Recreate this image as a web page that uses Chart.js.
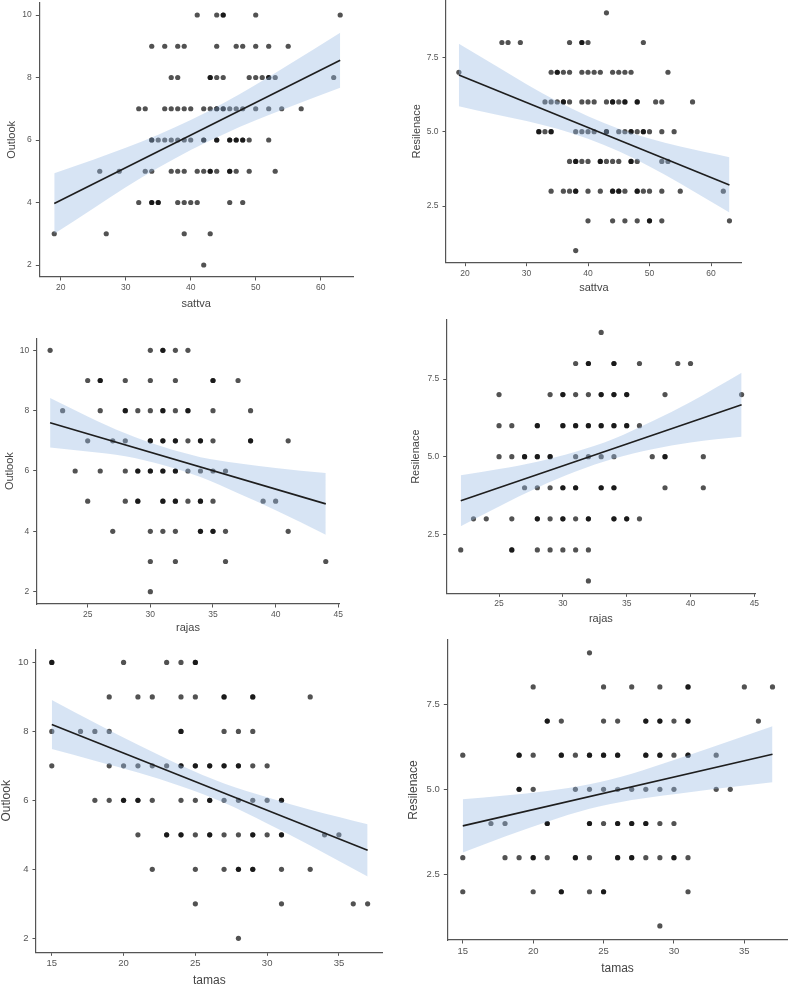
<!DOCTYPE html>
<html lang="en">
<head>
<meta charset="UTF-8">
<title>Gunas vs Outlook / Resilenace</title>
<script src="https://cdn.jsdelivr.net/npm/chart.js"></script>
<style>
  html, body { margin: 0; padding: 0; background: #fff; overflow: hidden; }
  body { width: 790px; height: 986px; position: relative; }
  canvas.panel { position: absolute; left: -10px; top: -10px; width: 810px; height: 1010px; }
</style>
</head>
<body>
<canvas class="panel" id="c1" width="810" height="1010"></canvas>
<canvas class="panel" id="c2" width="810" height="1010"></canvas>
<canvas class="panel" id="c3" width="810" height="1010"></canvas>
<canvas class="panel" id="c4" width="810" height="1010"></canvas>
<canvas class="panel" id="c5" width="810" height="1010"></canvas>
<canvas class="panel" id="c6" width="810" height="1010"></canvas>
<script>
// ---- data: [x, y] pairs (repeated pairs = overlapping cases) ----
const sattvaOutlook = [
  [41,10],[44,10],[45,10],[45,10],[50,10],[63,10],
  [34,9],[36,9],[38,9],[39,9],[44,9],[47,9],[48,9],[50,9],[52,9],[55,9],
  [37,8],[38,8],[43,8],[43,8],[44,8],[45,8],[49,8],[50,8],[51,8],[52,8],[52,8],[53,8],[62,8],
  [32,7],[33,7],[36,7],[37,7],[38,7],[39,7],[40,7],[42,7],[43,7],[44,7],[44,7],[45,7],[45,7],[46,7],[47,7],[48,7],[50,7],[52,7],[54,7],[57,7],
  [34,6],[34,6],[35,6],[36,6],[37,6],[38,6],[39,6],[40,6],[42,6],[42,6],[44,6],[44,6],[46,6],[46,6],[47,6],[47,6],[48,6],[48,6],[49,6],[52,6],
  [26,5],[29,5],[33,5],[34,5],[37,5],[38,5],[39,5],[41,5],[42,5],[43,5],[43,5],[44,5],[46,5],[46,5],[47,5],[49,5],[53,5],
  [32,4],[34,4],[34,4],[35,4],[35,4],[38,4],[39,4],[40,4],[41,4],[46,4],[48,4],
  [19,3],[27,3],[39,3],[43,3],
  [42,2]
];
const sattvaResil = [
  [43,9],
  [26,8],[27,8],[29,8],[37,8],[39,8],[39,8],[40,8],[49,8],
  [19,7],[34,7],[35,7],[35,7],[36,7],[37,7],[39,7],[40,7],[41,7],[42,7],[44,7],[45,7],[46,7],[47,7],[53,7],
  [33,6],[34,6],[35,6],[36,6],[36,6],[37,6],[39,6],[40,6],[41,6],[43,6],[44,6],[44,6],[45,6],[46,6],[46,6],[48,6],[48,6],[51,6],[52,6],[57,6],
  [32,5],[32,5],[33,5],[34,5],[34,5],[38,5],[39,5],[40,5],[41,5],[43,5],[43,5],[45,5],[46,5],[47,5],[47,5],[48,5],[49,5],[49,5],[50,5],[52,5],[54,5],
  [37,4],[38,4],[38,4],[39,4],[40,4],[42,4],[42,4],[43,4],[44,4],[45,4],[47,4],[47,4],[48,4],[52,4],[53,4],
  [34,3],[36,3],[37,3],[38,3],[38,3],[40,3],[42,3],[44,3],[44,3],[45,3],[45,3],[46,3],[48,3],[48,3],[49,3],[50,3],[52,3],[55,3],[62,3],
  [40,2],[44,2],[46,2],[48,2],[50,2],[50,2],[52,2],[63,2],
  [38,1]
];
const rajasOutlook = [
  [22,10],[30,10],[31,10],[31,10],[32,10],[33,10],
  [25,9],[26,9],[26,9],[28,9],[30,9],[32,9],[35,9],[35,9],[37,9],
  [23,8],[26,8],[28,8],[28,8],[29,8],[30,8],[31,8],[31,8],[32,8],[33,8],[33,8],[35,8],[38,8],
  [25,7],[27,7],[28,7],[30,7],[30,7],[31,7],[31,7],[32,7],[32,7],[33,7],[34,7],[34,7],[35,7],[38,7],[38,7],[41,7],
  [24,6],[26,6],[28,6],[29,6],[29,6],[30,6],[30,6],[31,6],[31,6],[32,6],[32,6],[33,6],[34,6],[35,6],[36,6],
  [25,5],[28,5],[29,5],[29,5],[31,5],[31,5],[32,5],[32,5],[33,5],[34,5],[34,5],[35,5],[39,5],[40,5],
  [27,4],[30,4],[31,4],[32,4],[34,4],[34,4],[35,4],[35,4],[36,4],[41,4],
  [30,3],[32,3],[36,3],[44,3],
  [30,2]
];
const rajasResil = [
  [33,9],
  [31,8],[32,8],[32,8],[34,8],[34,8],[36,8],[39,8],[40,8],
  [25,7],[29,7],[30,7],[30,7],[31,7],[32,7],[33,7],[33,7],[34,7],[34,7],[35,7],[35,7],[38,7],[44,7],
  [25,6],[26,6],[28,6],[28,6],[30,6],[30,6],[31,6],[31,6],[32,6],[32,6],[33,6],[33,6],[34,6],[34,6],[35,6],[35,6],[36,6],
  [25,5],[26,5],[27,5],[27,5],[28,5],[28,5],[29,5],[29,5],[31,5],[32,5],[33,5],[34,5],[37,5],[38,5],[38,5],[41,5],
  [27,4],[28,4],[29,4],[30,4],[30,4],[31,4],[31,4],[33,4],[33,4],[34,4],[34,4],[38,4],[41,4],
  [23,3],[24,3],[26,3],[28,3],[28,3],[29,3],[30,3],[30,3],[31,3],[32,3],[32,3],[34,3],[34,3],[35,3],[35,3],[36,3],
  [22,2],[26,2],[26,2],[28,2],[29,2],[30,2],[31,2],[32,2],
  [32,1]
];
const tamasOutlook = [
  [15,10],[15,10],[20,10],[23,10],[24,10],[25,10],[25,10],
  [19,9],[21,9],[22,9],[24,9],[25,9],[27,9],[27,9],[29,9],[29,9],[33,9],
  [15,8],[17,8],[18,8],[19,8],[24,8],[24,8],[27,8],[28,8],[29,8],
  [15,7],[19,7],[20,7],[21,7],[22,7],[23,7],[24,7],[24,7],[25,7],[25,7],[26,7],[26,7],[27,7],[27,7],[28,7],[28,7],[29,7],[30,7],
  [18,6],[19,6],[20,6],[20,6],[21,6],[21,6],[22,6],[24,6],[25,6],[26,6],[26,6],[27,6],[28,6],[29,6],[30,6],[31,6],[31,6],
  [21,5],[23,5],[23,5],[24,5],[24,5],[25,5],[26,5],[26,5],[27,5],[28,5],[29,5],[29,5],[30,5],[31,5],[31,5],[34,5],[35,5],
  [22,4],[25,4],[27,4],[28,4],[28,4],[29,4],[29,4],[31,4],[33,4],
  [25,3],[31,3],[36,3],[37,3],
  [28,2]
];
const tamasResil = [
  [24,9],
  [20,8],[25,8],[27,8],[29,8],[31,8],[31,8],[35,8],[37,8],
  [21,7],[21,7],[22,7],[25,7],[26,7],[28,7],[28,7],[29,7],[29,7],[30,7],[31,7],[31,7],[36,7],
  [15,6],[19,6],[19,6],[20,6],[22,6],[22,6],[23,6],[24,6],[24,6],[25,6],[25,6],[26,6],[26,6],[28,6],[28,6],[29,6],[29,6],[30,6],[31,6],[31,6],[33,6],
  [19,5],[19,5],[20,5],[23,5],[24,5],[25,5],[26,5],[27,5],[28,5],[29,5],[30,5],[33,5],[34,5],
  [17,4],[18,4],[21,4],[21,4],[24,4],[24,4],[25,4],[26,4],[26,4],[27,4],[27,4],[28,4],[28,4],[29,4],[30,4],
  [15,3],[18,3],[19,3],[20,3],[20,3],[21,3],[23,3],[23,3],[24,3],[26,3],[26,3],[27,3],[27,3],[28,3],[29,3],[30,3],[30,3],[31,3],
  [15,2],[20,2],[22,2],[22,2],[24,2],[25,2],[25,2],[31,2],
  [29,1]
];

// fitted lines (end points) and confidence band edges
const fitSattvaOutlook = [[19,3.97],[63,8.55]];
const fitSattvaResil   = [[19,6.91],[63,3.21]];
const fitRajasOutlook  = [[22,7.60],[44,4.91]];
const fitRajasResil    = [[22,3.58],[44,6.67]];
const fitTamasOutlook  = [[15,8.20],[37,4.55]];
const fitTamasResil    = [[15,3.93],[37,6.03]];

const bandXSattva = [19, 25, 30, 35, 40, 45, 50, 55, 63];
const bandHiSO = [4.94, 5.37, 5.75, 6.17, 6.64, 7.18, 7.77, 8.40, 9.43];
const bandLoSO = [3.00, 3.81, 4.49, 5.11, 5.68, 6.18, 6.63, 7.04, 7.67];
const bandHiSR = [7.96, 7.22, 6.60, 6.02, 5.52, 5.10, 4.77, 4.50, 4.14];
const bandLoSR = [5.86, 5.58, 5.36, 5.10, 4.76, 4.34, 3.83, 3.26, 2.28];

const bandXRajas = [22, 25, 28, 31, 34, 37, 40, 44];
const bandHiRO = [8.42, 7.81, 7.25, 6.80, 6.46, 6.26, 6.10, 5.93];
const bandLoRO = [6.78, 6.65, 6.49, 6.20, 5.80, 5.26, 4.70, 3.89];
const bandHiRR = [4.40, 4.60, 4.84, 5.16, 5.58, 6.14, 6.76, 7.70];
const bandLoRR = [2.76, 3.40, 4.00, 4.52, 4.94, 5.24, 5.46, 5.64];

const bandXTamas = [15, 18, 21, 24, 27, 30, 33, 37];
const bandHiTO = [8.91, 8.25, 7.61, 7.01, 6.49, 6.09, 5.73, 5.31];
const bandLoTO = [7.49, 7.15, 6.81, 6.41, 5.93, 5.33, 4.69, 3.79];
const bandHiTR = [4.71, 4.82, 4.95, 5.15, 5.46, 5.86, 6.28, 6.85];
const bandLoTR = [3.15, 3.62, 4.05, 4.43, 4.69, 4.86, 5.02, 5.21];

// tick values and labels
const sattvaTicks = [20, 30, 40, 50, 60];
const rajasTicks = [25, 30, 35, 40, 45];
const tamasTicks = [15, 20, 25, 30, 35];
const outlookTicks = [2, 4, 6, 8, 10];
const outlookLabels = ['2', '4', '6', '8', '10'];
const resilTicks = [2.5, 5.0, 7.5];
const resilLabels = ['2.5', '5.0', '7.5'];
const xTickLabels = v => String(v);

// ---- layout (page pixels): plot box [left, top, right, bottom] ----
const panels = [
  { id: 'c1', pts: sattvaOutlook, fit: fitSattvaOutlook, bx: bandXSattva, hi: bandHiSO, lo: bandLoSO,
    xTicks: sattvaTicks, yTicks: outlookTicks, yLabels: outlookLabels, xTitle: 'sattva', yTitle: 'Outlook',
    plot: [39.3, 2.7, 353, 277], xr: [16.7, 64.97], yr: [1.616, 10.394], xTitleY: 303.5, yTitleX: 12, tSize: 11, kSize: 8.5 },
  { id: 'c2', pts: sattvaResil, fit: fitSattvaResil, bx: bandXSattva, hi: bandHiSR, lo: bandLoSR,
    xTicks: sattvaTicks, yTicks: resilTicks, yLabels: resilLabels, xTitle: 'sattva', yTitle: 'Resilenace',
    plot: [446, 0, 741.7, 262.7], xr: [16.91, 64.99], yr: [0.593, 9.43], xTitleY: 287.5, yTitleX: 417, tSize: 11, kSize: 8.5 },
  { id: 'c3', pts: rajasOutlook, fit: fitRajasOutlook, bx: bandXRajas, hi: bandHiRO, lo: bandLoRO,
    xTicks: rajasTicks, yTicks: outlookTicks, yLabels: outlookLabels, xTitle: 'rajas', yTitle: 'Outlook',
    plot: [36.7, 338.3, 339.3, 604], xr: [20.93, 45.08], yr: [1.59, 10.4], xTitleY: 627.5, yTitleX: 10, tSize: 11, kSize: 8.5 },
  { id: 'c4', pts: rajasResil, fit: fitRajasResil, bx: bandXRajas, hi: bandHiRR, lo: bandLoRR,
    xTicks: rajasTicks, yTicks: resilTicks, yLabels: resilLabels, xTitle: 'rajas', yTitle: 'Resilenace',
    plot: [446.7, 320, 755, 593.3], xr: [20.9, 45.05], yr: [0.603, 9.4], xTitleY: 619, yTitleX: 416.3, tSize: 11, kSize: 8.5 },
  { id: 'c5', pts: tamasOutlook, fit: fitTamasOutlook, bx: bandXTamas, hi: bandHiTO, lo: bandLoTO,
    xTicks: tamasTicks, yTicks: outlookTicks, yLabels: outlookLabels, xTitle: 'tamas', yTitle: 'Outlook',
    plot: [36, 649.3, 382.7, 952.3], xr: [13.9, 38.05], yr: [1.594, 10.38], xTitleY: 981, yTitleX: 6.2, tSize: 12, kSize: 9.5 },
  { id: 'c6', pts: tamasResil, fit: fitTamasResil, bx: bandXTamas, hi: bandHiTR, lo: bandLoTR,
    xTicks: tamasTicks, yTicks: resilTicks, yLabels: resilLabels, xTitle: 'tamas', yTitle: 'Resilenace',
    plot: [447.3, 640, 787.7, 940], xr: [13.9, 38.08], yr: [0.587, 9.375], xTitleY: 968.7, yTitleX: 413.7, tSize: 12, kSize: 9.5 }
];

const OFF = 10;            // canvas is shifted by -10px
const CW = 810, CH = 1010;
const FONT = "'Liberation Sans', Arial, Helvetica, sans-serif";
const pointColor = 'rgba(0,0,0,0.68)';
const bandColor = 'rgba(150,185,225,0.38)';
const axisColor = '#555';
const tickLen = 3.5;

panels.forEach(p => {
  const [L, T, R, B] = p.plot;
  const padLeft = p.yTitleX + OFF - p.tSize / 2;
  const yAxisW = L + OFF - padLeft;
  const padBottom = CH - (p.xTitleY + OFF + p.tSize / 2);
  const xAxisH = p.xTitleY + p.tSize / 2 - B;

  const axisCommon = {
    grid: { display: true, drawOnChartArea: false, drawTicks: true, tickLength: tickLen, color: axisColor, lineWidth: 1 },
    border: { display: true, color: axisColor, width: 1.2 }
  };

  new Chart(document.getElementById(p.id), {
    type: 'scatter',
    data: {
      datasets: [
        {
          data: p.pts,
          backgroundColor: pointColor,
          borderWidth: 0,
          pointRadius: 2.6,
          order: 3
        },
        {
          type: 'line',
          data: p.bx.map((x, i) => [x, p.hi[i]]),
          borderWidth: 0,
          pointRadius: 0,
          backgroundColor: bandColor,
          fill: '+1',
          cubicInterpolationMode: 'monotone',
          order: 2
        },
        {
          type: 'line',
          data: p.bx.map((x, i) => [x, p.lo[i]]),
          borderWidth: 0,
          pointRadius: 0,
          fill: false,
          cubicInterpolationMode: 'monotone',
          order: 2
        },
        {
          type: 'line',
          data: p.fit,
          borderColor: '#1e1e1e',
          borderWidth: 1.6,
          pointRadius: 0,
          fill: false,
          order: 1
        }
      ]
    },
    options: {
      responsive: false,
      animation: false,
      devicePixelRatio: 1,
      layout: {
        padding: { left: padLeft, top: T + OFF, right: CW - (R + OFF), bottom: padBottom }
      },
      plugins: { legend: { display: false }, tooltip: { enabled: false } },
      scales: {
        x: {
          type: 'linear',
          min: p.xr[0], max: p.xr[1],
          ...axisCommon,
          afterBuildTicks: s => { s.ticks = p.xTicks.map(v => ({ value: v })); },
          afterFit: s => { s.height = xAxisH; },
          ticks: {
            autoSkip: false, maxRotation: 0, padding: 2, color: '#555',
            font: { family: FONT, size: p.kSize },
            callback: v => xTickLabels(v)
          },
          title: {
            display: true, text: p.xTitle, color: '#444', padding: 0,
            font: { family: FONT, size: p.tSize, lineHeight: 1 }
          }
        },
        y: {
          type: 'linear',
          min: p.yr[0], max: p.yr[1],
          ...axisCommon,
          afterBuildTicks: s => { s.ticks = p.yTicks.map(v => ({ value: v })); },
          afterFit: s => { s.width = yAxisW; },
          ticks: {
            autoSkip: false, padding: 4, color: '#555',
            font: { family: FONT, size: p.kSize },
            callback: (v, i) => p.yLabels[i]
          },
          title: {
            display: true, text: p.yTitle, color: '#444', padding: 0,
            font: { family: FONT, size: p.tSize, lineHeight: 1 }
          }
        }
      }
    }
  });
});
</script>
</body>
</html>
